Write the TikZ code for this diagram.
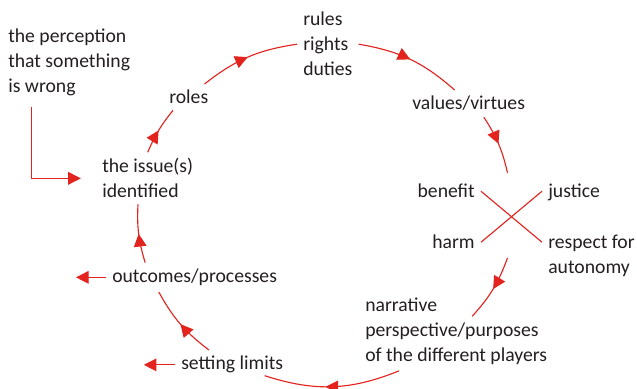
\documentclass[tikz,border=0pt]{standalone}
\usepackage{fontspec}
\setmainfont{Carlito}
\usepackage{xcolor}
\usetikzlibrary{arrows.meta,decorations.markings,calc}
\definecolor{cyclered}{RGB}{226,35,30}
\definecolor{ink}{RGB}{35,31,32}

\begin{document}
\begin{tikzpicture}[
    lbl/.style={text=ink,inner sep=.15cm,align=left,font=\fontsize{14}{17.8}\selectfont},
    flow/.style={color=cyclered,line width=.8pt},
    endarrow/.style={-{Triangle[length=9pt,width=9pt]}},
    midarrow/.style={postaction={decorate},decoration={markings,
        mark=at position #1 with {\arrow{Triangle[length=9pt,width=9pt]}}}},
    midarrow/.default=.5]

\useasboundingbox (0,0) rectangle (15.925,9.725);

% multi-line nodes sit on the baseline of their last line
\node[lbl,anchor=base west] (perception) at (0.05,7.4)
    {the perception\\that something\\is wrong};
\node[lbl,anchor=base west] (rules) at (7.425,7.825)
    {rules\\rights\\duties};
\node[lbl,anchor=base west] (roles) at (4.075,7.125) {roles};
\node[lbl,anchor=base west] (issue) at (2.4,4.775)
    {the issue(s)\\identified};
\node[lbl,anchor=base west] (values) at (10.15,6.975) {values/virtues};
\node[lbl,anchor=base east] (benefit) at (12.025,4.775) {benefit};
\node[lbl,anchor=base east] (harm) at (12.025,3.5) {harm};
\node[lbl,anchor=base west] (justice) at (13.55,4.775) {justice};
\node[lbl,anchor=base west] (respect) at (13.55,2.875)
    {respect for\\autonomy};
\node[lbl,anchor=base west] (narrative) at (8.975,0.69)
    {narrative\\perspective/purposes\\of the different players};
\node[lbl,anchor=base west] (outcomes) at (2.65,2.66) {outcomes/processes};
\node[lbl,anchor=base west] (limits) at (4.375,0.475) {setting limits};

% the cross between the four principles
\draw[flow] (benefit.east) -- (harm.east -| justice.west);
\draw[flow] (benefit.east -| justice.west) -- (harm.east);
\coordinate (cross) at ($(benefit.east)!.5!(harm.east -| justice.west)$);

% round the cycle, clockwise
\draw[flow,midarrow] (issue.north) to[bend left=8] ([xshift=.25cm]roles.south west);
\draw[flow,midarrow] ([xshift=-.25cm]roles.north east) to[bend left=15] (rules.west);
\draw[flow,midarrow] (rules.east) to[bend left=16] ([xshift=-.35cm]values.north);
\draw[flow,midarrow] ([xshift=.38cm]values.south) to[bend left=10] ([shift={(-.1,1.1)}]cross);
\draw[flow,midarrow] ([shift={(-.1,-1.03)}]cross) to[bend left=11] ([shift={(.4,-.62)}]narrative.north);
\draw[flow,midarrow=.55] ([xshift=1cm]narrative.south west) to[bend left=20] ([shift={(-.62,.1)}]limits.south east);
\draw[flow,midarrow] ([xshift=.85cm]limits.north west) to[bend left=12] ([xshift=1.32cm]outcomes.south west);
\draw[flow,midarrow] ([xshift=.98cm]outcomes.north west) to[bend left=10] ([xshift=1.05cm]issue.south west);

\draw[flow,endarrow] ([shift={(.74,-.1)}]perception.south west) |- ([xshift=-.38cm]issue.west);
\draw[flow,endarrow] (outcomes.west) -- ++(-.75,0);
\draw[flow,endarrow] (limits.west) -- ++(-.78,0);
\end{tikzpicture}
\end{document}
